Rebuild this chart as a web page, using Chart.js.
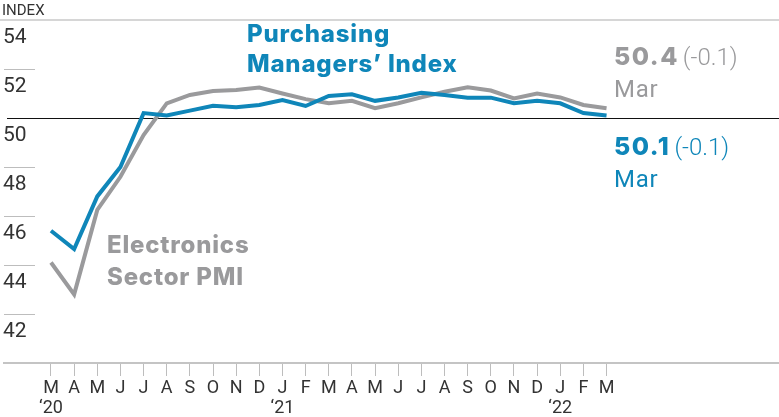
<!DOCTYPE html>
<html>
<head>
<meta charset="utf-8">
<script src="https://cdn.jsdelivr.net/npm/chart.js@4"></script>
<style>
    body { margin: 0; background: #fff; }
    #wrap { width: 779px; height: 417px; }
</style>
</head>
<body>
<div id="wrap"><canvas id="pmi" width="779" height="417"></canvas></div>
<script>
// data, Mar 2020 .. Mar 2022
const months = ['M', 'A', 'M', 'J', 'J', 'A', 'S', 'O', 'N', 'D', 'J', 'F', 'M', 'A', 'M', 'J', 'J', 'A', 'S', 'O', 'N', 'D', 'J', 'F', 'M'];
const years = { 0: '\u201820', 10: '\u201821', 22: '\u201822' };

const pmiValues = [45.4, 44.65, 46.8, 48.0, 50.2, 50.1, 50.3, 50.5, 50.44, 50.53, 50.73, 50.49, 50.9, 50.97, 50.7, 50.84, 51.03, 50.94, 50.83, 50.83, 50.6, 50.7, 50.6, 50.2, 50.1];
const electronicsValues = [44.1, 42.8, 46.25, 47.6, 49.3, 50.6, 50.94, 51.1, 51.14, 51.24, 51.0, 50.77, 50.6, 50.7, 50.4, 50.6, 50.84, 51.07, 51.25, 51.12, 50.8, 51.0, 50.84, 50.53, 50.4];

const yTicks = [42, 44, 46, 48, 50, 52, 54];

const BLUE = '#0f86b9';
const GRAY = '#9a9a9c';
const TEXT = '#333333';
const FONT = 'Roboto, "Liberation Sans", sans-serif';
const BOLD_FONT = 'Inter, Roboto, sans-serif';

function points(values) {
    return values.map((v, i) => ({ x: i, y: v }));
}

const decorations = {
    id: 'decorations',
    beforeDatasetsDraw(chart) {
        const ctx = chart.ctx;
        const y = chart.scales.y;
        const area = chart.chartArea;
        ctx.save();
        // top rule
        ctx.strokeStyle = '#c8c8c8';
        ctx.lineWidth = 1.5;
        ctx.beginPath();
        ctx.moveTo(0, y.getPixelForValue(54));
        ctx.lineTo(chart.width, y.getPixelForValue(54));
        ctx.stroke();

        yTicks.forEach(v => {
            const py = Math.round(y.getPixelForValue(v)) + 0.5;
            if (v === 50) {
                ctx.strokeStyle = '#111';
                ctx.lineWidth = 1.2;
                ctx.beginPath();
                ctx.moveTo(7, py);
                ctx.lineTo(chart.width, py);
                ctx.stroke();
            } else if (v !== 54) {
                ctx.strokeStyle = '#bdbdbd';
                ctx.lineWidth = 1;
                ctx.beginPath();
                ctx.moveTo(area.left, py);
                ctx.lineTo(35, py);
                ctx.stroke();
            }
            ctx.fillStyle = TEXT;
            ctx.font = '21px ' + FONT;
            ctx.textBaseline = 'alphabetic';
            ctx.textAlign = 'left';
            ctx.fillText(String(v), 3, py + 22);
        });
        ctx.restore();
    },
    afterDraw(chart) {
        const ctx = chart.ctx;
        ctx.save();
        ctx.textBaseline = 'alphabetic';
        ctx.textAlign = 'left';

        ctx.fillStyle = TEXT;
        ctx.font = '15px ' + FONT;
        ctx.fillText('INDEX', 2, 15);

        ctx.letterSpacing = '0.8px';
        ctx.fillStyle = BLUE;
        ctx.font = '800 24px ' + BOLD_FONT;
        ctx.fillText('Purchasing', 247, 42);
        ctx.fillText('Managers\u2019 Index', 247, 72);

        ctx.fillStyle = GRAY;
        ctx.fillText('Electronics', 107, 253);
        ctx.fillText('Sector PMI', 107, 285);

        // end labels
        const endLabel = (value, change, color, baseline) => {
            ctx.fillStyle = color;
            ctx.letterSpacing = '1.5px';
            ctx.font = '800 25px ' + BOLD_FONT;
            ctx.fillText(value, 614, baseline);
            const w = ctx.measureText(value).width;
            ctx.letterSpacing = '0px';
            ctx.font = '300 24px ' + FONT;
            ctx.fillText(change, 614 + w + 4, baseline);
            ctx.letterSpacing = '0.8px';
            ctx.font = '24px ' + FONT;
            ctx.fillText('Mar', 614, baseline + 32);
        };
        endLabel(electronicsValues[electronicsValues.length - 1].toFixed(1), '(-0.1)', GRAY, 65);
        endLabel(pmiValues[pmiValues.length - 1].toFixed(1), '(-0.1)', BLUE, 155);
        ctx.restore();
    }
};

const ctx = document.getElementById('pmi');

let chart = new Chart(ctx, {
    type: 'line',
    data: {
        datasets: [{
            label: 'Purchasing Managers\u2019 Index',
            data: points(pmiValues),
            borderColor: BLUE,
            borderWidth: 4,
            pointRadius: 0,
            tension: 0,
            fill: false,
        },
        {
            label: 'Electronics Sector PMI',
            data: points(electronicsValues),
            borderColor: GRAY,
            borderWidth: 4,
            pointRadius: 0,
            tension: 0,
            fill: false,
        }]
    },
    options: {
        responsive: false,
        animation: false,
        layout: {
            padding: { left: 4, right: 0, top: 20, bottom: 0 }
        },
        plugins: {
            legend: { display: false },
            tooltip: { enabled: false },
        },
        scales: {
            x: {
                type: 'linear',
                min: -2.03,
                max: 31.45,
                afterBuildTicks(scale) {
                    scale.ticks = months.map((m, i) => ({ value: i }));
                },
                afterFit(scale) {
                    scale.height = 54;
                },
                ticks: {
                    autoSkip: false,
                    maxRotation: 0,
                    padding: 2,
                    color: TEXT,
                    font: { family: FONT, size: 18, lineHeight: 1.12 },
                    callback(value) {
                        const m = months[value];
                        return years[value] ? [m, years[value]] : m;
                    }
                },
                grid: {
                    drawOnChartArea: false,
                    drawTicks: true,
                    tickLength: 13,
                    color: '#bdbdbd',
                    lineWidth: 1,
                },
                border: {
                    display: true,
                    color: '#c4c4c4',
                    width: 2,
                }
            },
            y: {
                display: false,
                min: 40,
                max: 54,
            }
        }
    },
    plugins: [decorations]
});
</script>
</body>
</html>
